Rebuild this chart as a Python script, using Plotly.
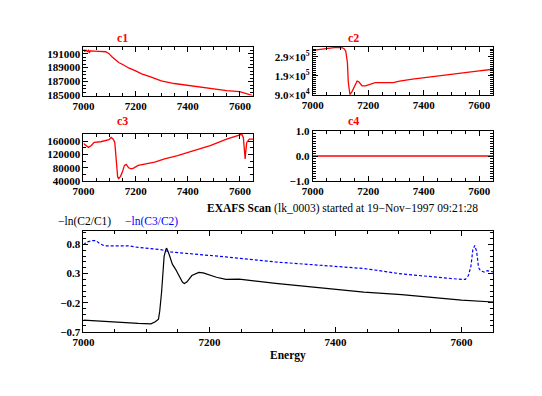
import plotly.graph_objects as go

W, H = 542, 396

# ---------------- data ----------------
energy_c1 = [7000, 7005, 7010, 7015, 7020, 7022, 7026, 7035, 7060, 7085, 7098, 7110, 7123, 7135, 7154,
             7173, 7198, 7223, 7260, 7298, 7348, 7398, 7448, 7499, 7549, 7599, 7624, 7649]
c1 = [191600, 191350, 191500, 191300, 191550, 191100, 191400, 191360, 191320, 191280, 191000, 190530,
      190070, 189740, 189370, 188950, 188570, 188110, 187650, 187090, 186720, 186440, 186160, 185930,
      185700, 185560, 185230, 185000]

energy_c2 = [7000, 7042, 7084, 7107, 7113, 7119, 7125, 7128, 7131, 7134, 7142, 7151, 7160, 7166, 7178,
             7190, 7207, 7225, 7290, 7313, 7360, 7400, 7500, 7600, 7650]
c2 = [323500, 330000, 338500, 336500, 331500, 318500, 260000, 160000, 101500, 93500, 110000, 138500,
      163500, 160000, 138500, 138500, 146500, 155000, 155000, 163500, 173500, 180000, 198000, 216000, 225000]

energy_c3 = [7000, 7010, 7019, 7029, 7041, 7066, 7098, 7106, 7114, 7120, 7124, 7127, 7131, 7135, 7142,
             7150, 7157, 7164, 7173, 7183, 7192, 7210, 7273, 7311, 7361, 7423, 7486, 7549, 7598, 7607,
             7613, 7617, 7620, 7622, 7626, 7636, 7650]
c3 = [153000, 146200, 141200, 146200, 156000, 158000, 164000, 170700, 165700, 156000, 121400, 72500,
      52700, 47700, 54700, 69500, 87200, 90200, 80100, 77200, 79200, 87200, 97000, 106700, 116700,
      131500, 146200, 165700, 178500, 180000, 170700, 141000, 106700, 126400, 156000, 165700, 165700]

energy_c4 = [7000, 7650]
c4 = [0.0, 0.0]

energy_a = [7000, 7045, 7087, 7107, 7114, 7119, 7121, 7124, 7126, 7128, 7131, 7132, 7136, 7141, 7146,
            7151, 7157, 7160, 7164, 7172, 7183, 7190, 7211, 7226, 7247, 7305, 7445, 7505, 7600, 7650]
mu_c2c1 = [-0.50, -0.533, -0.555, -0.562, -0.528, -0.483, -0.345, -0.012, 0.322, 0.60, 0.722, 0.738,
           0.628, 0.462, 0.378, 0.267, 0.155, 0.128, 0.155, 0.267, 0.322, 0.312, 0.238, 0.20, 0.205,
           0.133, -0.017, -0.06, -0.155, -0.188]

energy_b = [7000, 7004, 7014, 7020, 7025, 7033, 7071, 7087, 7123, 7138, 7226, 7305, 7445, 7505, 7595,
            7606, 7611, 7615, 7618, 7621, 7624, 7627, 7630, 7637, 7641, 7650]
mu_c3c2 = [0.795, 0.838, 0.867, 0.867, 0.822, 0.778, 0.778, 0.75, 0.712, 0.672, 0.588, 0.50, 0.388,
           0.295, 0.205, 0.20, 0.267, 0.433, 0.712, 0.783, 0.683, 0.405, 0.35, 0.322, 0.35, 0.33]

x_ticks = [7000, 7200, 7400, 7600]
c2_tickvals = [90000, 190000, 290000]
c2_ticktext = ["9.0×10<sup>4</sup>", "1.9×10<sup>5</sup>", "2.9×10<sup>5</sup>"]
main_tickvals = [-0.7, -0.2, 0.3, 0.8]

# ---------------- layout helpers ----------------
def dx(x0, x1):
    return [x0 / W, x1 / W]

def dy(y0, y1):
    return [1 - y1 / H, 1 - y0 / H]

FONT = "Liberation Serif"
tickfont = dict(family=FONT, size=11, color="black", weight="bold")

def axis(domain, rng, dtick=None, tick0=None, minor_dtick=None, anchor=None, **kw):
    d = dict(domain=domain, range=rng, showline=True, linecolor="black", linewidth=1,
             mirror="ticks", ticks="inside", ticklen=5, tickcolor="black", tickwidth=1,
             showgrid=False, zeroline=False, tickfont=tickfont, anchor=anchor)
    if dtick is not None:
        d.update(dtick=dtick, tick0=tick0, tickmode="linear")
    if minor_dtick is not None:
        d["minor"] = dict(dtick=minor_dtick, ticks="inside", ticklen=3, tickcolor="black",
                          tickwidth=1, showgrid=False)
    d.update(kw)
    return d

fig = go.Figure()

red = dict(color="#ff0000", width=1.3)
fig.add_trace(go.Scatter(x=energy_c1, y=c1, mode="lines", line=red, xaxis="x", yaxis="y", showlegend=False))
fig.add_trace(go.Scatter(x=energy_c2, y=c2, mode="lines", line=red, xaxis="x2", yaxis="y2", showlegend=False))
fig.add_trace(go.Scatter(x=energy_c3, y=c3, mode="lines", line=red, xaxis="x3", yaxis="y3", showlegend=False))
fig.add_trace(go.Scatter(x=energy_c4, y=c4, mode="lines", line=dict(color="#ff0000", width=1.6),
                         xaxis="x4", yaxis="y4", showlegend=False))
fig.add_trace(go.Scatter(x=energy_a, y=mu_c2c1, mode="lines", line=dict(color="black", width=1.2),
                         xaxis="x5", yaxis="y5", showlegend=False))
fig.add_trace(go.Scatter(x=energy_b, y=mu_c3c2, mode="lines",
                         line=dict(color="#0000ff", width=1.2, dash="3px,2px"),
                         xaxis="x5", yaxis="y5", showlegend=False))

xr = [7000, 7650]
fig.update_layout(
    width=W, height=H, autosize=False,
    margin=dict(l=0, r=0, t=0, b=0),
    paper_bgcolor="white", plot_bgcolor="white",
    xaxis=axis(dx(74, 247), xr, 200, 7000, 50, anchor="y", tickvals=x_ticks, tickmode="array"),
    yaxis=axis(dy(42.7, 92.3), [185000, 191900], 2000, 185000, 500, anchor="x", tickformat="d"),
    xaxis2=axis(dx(308, 492), xr, 200, 7000, 50, anchor="y2", tickvals=x_ticks, tickmode="array"),
    yaxis2=axis(dy(42, 92), [90000, 342000], None, None, 10000, anchor="x2",
                tickmode="array", tickvals=c2_tickvals, ticktext=c2_ticktext),
    xaxis3=axis(dx(74, 247), xr, 200, 7000, 50, anchor="y3", tickvals=x_ticks, tickmode="array"),
    yaxis3=axis(dy(131.7, 180.7), [40000, 182000], 40000, 40000, 20000, anchor="x3", tickformat="d"),
    xaxis4=axis(dx(308, 492), xr, 200, 7000, 50, anchor="y4", tickvals=x_ticks, tickmode="array"),
    yaxis4=axis(dy(129, 180.5), [-1, 1], 1, -1, 0.1, anchor="x4", tickformat=".1f"),
    xaxis5=axis(dx(74, 492), xr, 200, 7000, 50, anchor="y5", tickvals=x_ticks, tickmode="array"),
    yaxis5=axis(dy(232, 336), [-0.7, 1.033], None, None, 0.1, anchor="x5",
                tickmode="array", tickvals=main_tickvals, ticktext=["−0.7", "−0.2", "0.3", "0.8"]),
)

def ann(text, px, py, color="black", size=11, xanchor="center", bold=False):
    fig.add_annotation(text=text, x=px / W, y=1 - py / H, xref="paper", yref="paper",
                       xanchor=xanchor, yanchor="middle", showarrow=False, borderpad=0,
                       font=dict(family=FONT, size=size, color=color, weight="bold" if bold else "normal"))

ann("c1", 114, 33, color="#ff0000", size=12, bold=True)
ann("c2", 350, 33, color="#ff0000", size=12, bold=True)
ann("c3", 114, 119, color="#ff0000", size=12, bold=True)
ann("c4", 350, 119, color="#ff0000", size=12, bold=True)
ann("<b>EXAFS Scan</b> (lk_0003) started at 19−Nov−1997 09:21:28", 478, 209, xanchor="right", size=11.5)
ann("−ln(C2/C1)", 47, 222, xanchor="left", size=11.5)
ann("−ln(C3/C2)", 115, 222, color="#0000ff", xanchor="left", size=11.5)
ann("Energy", 283, 360, bold=True, size=11.5)

fig.write_html("out.html", config={"displayModeBar": False},
               post_script="document.body.style.margin='0px';document.body.style.overflow='hidden';")
